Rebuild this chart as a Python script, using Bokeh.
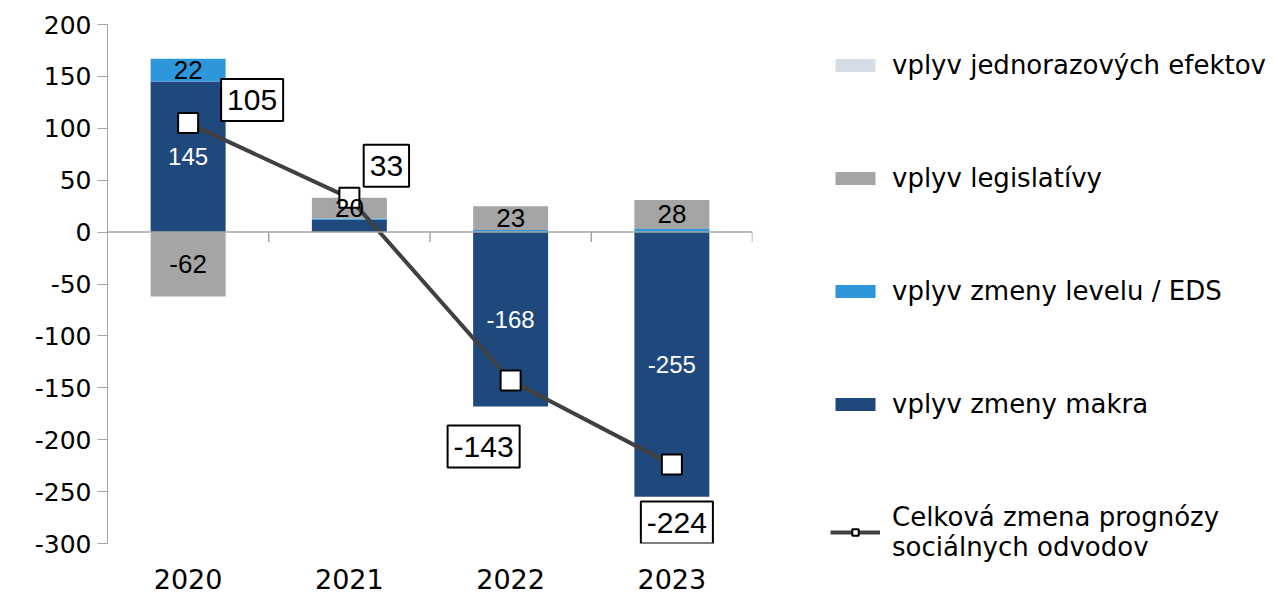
from bokeh.plotting import figure
from bokeh.models import (ColumnDataSource, Range1d, FixedTicker, Span, Legend,
                          LegendItem, Label)
from bokeh.core.properties import value
from bokeh.embed import file_html
from bokeh.resources import INLINE

# ---------------- data ----------------
years = ["2020", "2021", "2022", "2023"]
makro = [145, 12, -168, -255]          # vplyv zmeny makra
level = [22, 1, 2, 3]                  # vplyv zmeny levelu / EDS
legis = [-62, 20, 23, 28]              # vplyv legislatívy
jednoraz = [0, 0, 0, 0]                # vplyv jednorazových efektov
total = [105, 33, -143, -224]          # Celková zmena prognózy sociálnych odvodov
y_ticks = [-300, -250, -200, -150, -100, -50, 0, 50, 100, 150, 200]

names = ["vplyv zmeny makra", "vplyv zmeny levelu / EDS",
         "vplyv legislatívy", "vplyv jednorazových efektov"]
total_name = "Celková zmena prognózy\nsociálnych odvodov"
colors = ["#1F497D", "#2E96DB", "#A5A5A5", "#D6DCE6"]
label_colors = ["white", "black", "black", "black"]
label_sizes = ["24px", "26px", "26px", "26px"]

# label offsets (screen px) for the boxed totals
tot_dx = [64, 37, -27, 5]
tot_dy = [23, 32, -66, -58]

FONT = "Liberation Sans"
AXFONT = "DejaVu Sans"
n = len(years)
xs = [i + 0.5 for i in range(n)]

p = figure(frame_width=645, frame_height=519, output_backend="svg",
           toolbar_location=None,
           x_range=Range1d(0, n), y_range=Range1d(-300, 200),
           min_border_left=107, min_border_right=80, min_border_top=24,
           min_border_bottom=53)
p.outline_line_color = None
p.xgrid.visible = False
p.ygrid.visible = False

# stacking
pos = [0] * n
neg = [0] * n
seg_sources = []
series = [makro, level, legis, jednoraz]
for s in series:
    bottoms, tops = [], []
    for i, v in enumerate(s):
        if v >= 0:
            b = pos[i]; t = b + v; pos[i] = t
        else:
            b = neg[i]; t = b + v; neg[i] = t
        bottoms.append(b); tops.append(t)
    seg_sources.append((bottoms, tops))

bar_r = []
for k, s in enumerate(series):
    b, t = seg_sources[k]
    src = ColumnDataSource(dict(x=xs, bottom=b, top=t, v=s))
    bar_r.append(p.vbar(x="x", bottom="bottom", top="top", width=0.465, source=src,
                        fill_color=colors[k], line_color=None))

# zero line and category ticks on it
p.add_layout(Span(location=0, dimension="width", line_color="#A6A6A6", line_width=1.5))
bounds = list(range(1, n + 1))
p.segment(x0=bounds, x1=bounds, y0=[0] * n, y1=[-9.5] * n, line_color="#A6A6A6",
          line_width=1.5)

# total line
line_r = p.line(xs, total, line_color="#404040", line_width=4)
sc_r = p.scatter(xs, total, marker="square", size=20, fill_color="white",
                 line_color="black", line_width=2)

# bar value labels
for k, s in enumerate(series):
    b, t = seg_sources[k]
    lx, ly, lt = [], [], []
    for i, v in enumerate(s):
        if abs(v) >= 15:
            lx.append(xs[i]); ly.append((b[i] + t[i]) / 2); lt.append(str(v))
    if lx:
        p.text(x=lx, y=ly, text=lt, text_align="center", text_baseline="middle",
               text_color=label_colors[k], text_font=value(FONT),
               text_font_size=label_sizes[k])

for i in range(n):
    p.add_layout(Label(x=xs[i], y=total[i], text=str(total[i]),
                       x_offset=tot_dx[i], y_offset=tot_dy[i],
                       text_align="center", text_baseline="middle",
                       text_color="black",
                       text_font=FONT, text_font_size="30px",
                       background_fill_color="white", border_line_color="black",
                       border_line_width=2, padding=(6, 11)))

# axes
p.yaxis.ticker = FixedTicker(ticks=y_ticks)
p.yaxis.major_label_overrides = {v: str(v) for v in y_ticks}
p.yaxis.axis_line_color = "#A6A6A6"
p.yaxis.major_tick_line_color = "#A6A6A6"
p.yaxis.major_tick_out = 10
p.yaxis.major_tick_in = 0
p.yaxis.minor_tick_line_color = None
p.yaxis.major_label_standoff = 6
p.yaxis.major_label_text_font = AXFONT
p.yaxis.major_label_text_font_size = "25px"
p.yaxis.major_label_text_color = "black"

p.xaxis.ticker = FixedTicker(ticks=xs)
p.xaxis.major_label_overrides = {x: y for x, y in zip(xs, years)}
p.xaxis.axis_line_color = None
p.xaxis.major_tick_line_color = None
p.xaxis.minor_tick_line_color = None
p.xaxis.major_label_standoff = 19
p.xaxis.major_label_text_font = AXFONT
p.xaxis.major_label_text_font_size = "27px"
p.xaxis.major_label_text_color = "black"

# ---------------- legend ----------------
items = [LegendItem(label=names[3], renderers=[bar_r[3]]),
         LegendItem(label=names[2], renderers=[bar_r[2]]),
         LegendItem(label=names[1], renderers=[bar_r[1]]),
         LegendItem(label=names[0], renderers=[bar_r[0]]),
         LegendItem(label=total_name, renderers=[line_r, sc_r])]
legend = Legend(items=items, location=(78, -19), orientation="vertical",
                label_text_font=AXFONT, label_text_font_size="26px",
                label_text_color="black", label_text_line_height=1.3,
                glyph_width=50, glyph_height=16, spacing=83, padding=10,
                margin=0, border_line_color=None, background_fill_alpha=0,
                label_standoff=12)
p.add_layout(legend, "right")

open("out.html", "w").write(file_html(p, INLINE))
